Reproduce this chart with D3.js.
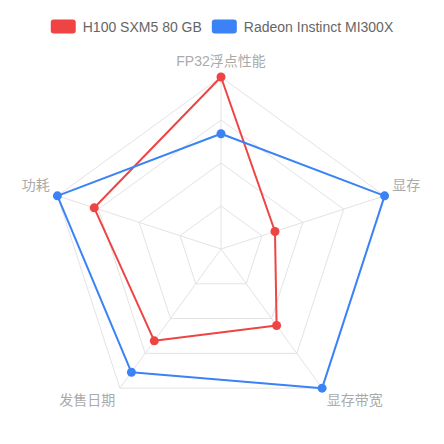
<!DOCTYPE html>
<html>
<head>
<meta charset="utf-8">
<script src="https://cdn.jsdelivr.net/npm/d3@7"></script>
<style>
  html, body { margin: 0; padding: 0; background: #fff; }
  svg { display: block; }
</style>
</head>
<body>
<script>
// Radar indicators, clockwise from the top
const indicators = ["FP32浮点性能", "显存", "显存带宽", "发售日期", "功耗"];
const indicatorMax = [100, 100, 100, 100, 100];

const seriesNames = ["H100 SXM5 80 GB", "Radeon Instinct MI300X"];
const seriesColors = ["#ef4444", "#3b82f6"];
const h100Values = [100, 33, 55, 66, 77.5];
const mi300xValues = [67, 100, 100, 88.6, 100];
const seriesValues = [h100Values, mi300xValues];

const splitNumber = 4;

const width = 444;
const height = 444;
const cx = 221;
const cy = 249;
const radius = 172;
const fontFamily = "Arial, 'Liberation Sans', 'Noto Sans CJK SC', sans-serif";

const svg = d3.select("body")
  .append("svg")
  .attr("width", width)
  .attr("height", height)
  .style("font-family", fontFamily);

// one radial scale per indicator
const scales = indicatorMax.map((m) => d3.scaleLinear().domain([0, m]).range([0, radius]));
const angle = (i) => -Math.PI / 2 + (i * 2 * Math.PI) / indicators.length;

const g = svg.append("g").attr("transform", `translate(${cx},${cy})`);

// split rings
const rings = d3.range(1, splitNumber + 1).map((k) => (k / splitNumber) * radius);
g.append("g")
  .selectAll("polygon")
  .data(rings)
  .enter()
  .append("polygon")
  .attr("points", (r) => indicators.map((_, i) => [r * Math.cos(angle(i)), r * Math.sin(angle(i))].join(",")).join(" "))
  .attr("fill", "none")
  .attr("stroke", "#e3e3e3")
  .attr("stroke-width", 1);

// axis lines
g.append("g")
  .selectAll("line")
  .data(indicators)
  .enter()
  .append("line")
  .attr("x1", 0)
  .attr("y1", 0)
  .attr("x2", (_, i) => radius * Math.cos(angle(i)))
  .attr("y2", (_, i) => radius * Math.sin(angle(i)))
  .attr("stroke", "#e3e3e3")
  .attr("stroke-width", 1);

// axis names
const nameGap = 8;
g.append("g")
  .selectAll("text")
  .data(indicators)
  .enter()
  .append("text")
  .each(function (d, i) {
    const c = Math.cos(angle(i));
    const s = Math.sin(angle(i));
    const r = radius + nameGap;
    const x = r * c;
    let y = r * s;
    const anchor = c > 0.01 ? "start" : c < -0.01 ? "end" : "middle";
    // above the point when the axis points up, below otherwise
    y += s < -0.01 ? -8 : 5;
    d3.select(this)
      .attr("x", x)
      .attr("y", y)
      .attr("text-anchor", anchor)
      .attr("dominant-baseline", "central");
  })
  .attr("fill", "#aaa")
  .style("font-size", "14px")
  .text((d) => d);

// series
const line = d3.line()
  .x((d) => d[0])
  .y((d) => d[1])
  .curve(d3.curveLinearClosed);

seriesValues.forEach((vals, si) => {
  const pts = vals.map((v, i) => {
    const r = scales[i](v);
    return [r * Math.cos(angle(i)), r * Math.sin(angle(i))];
  });
  const sg = g.append("g");
  sg.append("path")
    .attr("d", line(pts))
    .attr("fill", "none")
    .attr("stroke", seriesColors[si])
    .attr("stroke-width", 2)
    .attr("stroke-linejoin", "round");
  sg.selectAll("circle")
    .data(pts)
    .enter()
    .append("circle")
    .attr("cx", (d) => d[0])
    .attr("cy", (d) => d[1])
    .attr("r", 4.5)
    .attr("fill", seriesColors[si]);
});

// legend
const legend = svg.append("g");
const itemW = 25, itemH = 14, itemGap = 10, textGap = 7;
let lx = 0;
seriesNames.forEach((name, i) => {
  const item = legend.append("g").attr("transform", `translate(${lx},0)`);
  item.append("rect")
    .attr("width", itemW)
    .attr("height", itemH)
    .attr("rx", 3)
    .attr("fill", seriesColors[i]);
  const t = item.append("text")
    .attr("x", itemW + textGap)
    .attr("y", itemH / 2)
    .attr("dominant-baseline", "central")
    .attr("fill", "#666")
    .style("font-size", "14px")
    .text(name);
  lx += itemW + textGap + t.node().getComputedTextLength() + itemGap;
});
const legendW = lx - itemGap;
legend.attr("transform", `translate(${(width - legendW) / 2},19.5)`);
</script>
</body>
</html>
